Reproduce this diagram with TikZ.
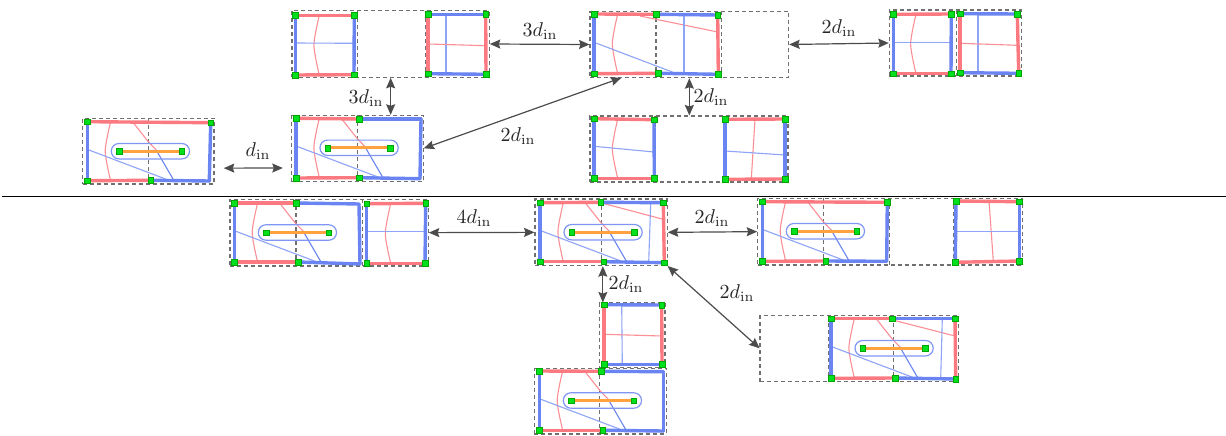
\documentclass[tikz,border=0pt]{standalone}
\usetikzlibrary{arrows.meta}
\definecolor{cred}{HTML}{FB7A82}
\definecolor{cblue}{HTML}{6A84F2}
\definecolor{tred}{HTML}{FC8F96}
\definecolor{tblue}{HTML}{8EA4F6}
\definecolor{cor}{HTML}{FFA23F}
\definecolor{cgr}{HTML}{00E01C}
\definecolor{cdash}{HTML}{707070}
\definecolor{carr}{HTML}{4C4C4C}
\tikzset{
 gsq/.style={draw=black!35!green,line width=.3pt,fill=cgr,minimum size=5.6pt,inner sep=0pt,outer sep=0pt},
 tkred/.style={cred,line width=3.4pt},
 tkblue/.style={cblue,line width=3.4pt},
 thr/.style={tred,line width=1.1pt},
 thb/.style={tblue,line width=1.1pt},
 dbox/.style={draw=cdash,line width=1.2pt,dash pattern=on 4pt off 3pt,inner sep=0pt,outer sep=0pt},
 dln/.style={cdash,line width=1.2pt,dash pattern=on 4pt off 3pt},
 dist/.style={carr,line width=1.2pt,{Stealth[length=10.5pt,width=9pt,inset=1.5pt]}-{Stealth[length=10.5pt,width=9pt,inset=1.5pt]},shorten >=.5pt,shorten <=.5pt},
 lab/.style={scale=2,transform shape,inner sep=0pt,text=black!85},
 caps/.style={cblue!85!white,line width=1.2pt,rounded corners=7.6pt},
 orl/.style={cor,line width=3pt},
}
\newcount\gcnt
\newcommand{\gn}[1]{\global\advance\gcnt by 1 \node[gsq] (g\the\gcnt) at (#1) {};}
\newcommand{\rseg}[2]{\draw[tkred,line cap=round] (#1) -- (#2);}
\newcommand{\bseg}[2]{\draw[tkblue,line cap=round] (#1) -- (#2);}
\newcommand{\rthin}[2]{\draw[thr] (#1) -- (#2);}
\newcommand{\bthin}[2]{\draw[thb] (#1) -- (#2);}
% box: name, x1, y1, x2, y2
\newcommand{\dboxn}[5]{\node[dbox,minimum width=#4pt-#2pt,minimum height=#5pt-#3pt] (#1) at ({(#2+#4)/2},{(#3+#5)/2}) {};}
\newcommand{\vd}[3]{\draw[dln] (#1,#2) -- (#1,#3);}
% curve in a cell: top x, top y, bottom y
\newcommand{\rcurve}[3]{\draw[thr] plot[smooth,tension=.45] coordinates {(#1,#2) (#1-5.4,{(#2+#3)/2}) (#1,#3)};}
% shared inner drawing of a wide left part: TL corner x,y
\newcommand{\capsparts}[2]{%
 \begin{scope}[shift={(#1,#2)}]
  \rcurve{23.3}{0}{59}
  \draw[thr] (46,1) -- (61,20) -- (68.7,28);
  \draw[cblue,line width=1.1pt] (68.7,28) -- (86.7,59);
  \bthin{0,27.7}{82.7,59}
  \draw[caps] (24,21.8) rectangle (102.2,37.2);
  \draw[orl] (31.7,29.6) -- (94.3,29.6);
  \gn{31.7,29.6}\gn{94.3,29.6}
 \end{scope}}
\begin{document}
\begin{tikzpicture}[x=1pt,y=-1pt]
\useasboundingbox (0,0) rectangle (1226,436);
\fill[white] (0,0) rectangle (1226,436);
% rule
\coordinate (rl) at (2,196.5); \coordinate (rr) at (1226,196.5);
\draw[black,line width=.9pt] (rl) -- (rr);

% --- P0
\dboxn{p0}{82.7}{118.3}{214}{184}
\vd{148.3}{118.3}{184}
\capsparts{87.3}{121.7}
\rseg{87.3,121.7}{210.7,122.7}
\bseg{87.3,121.7}{87.3,180.7}
\rseg{87.3,180.7}{150.7,180.3}
\bseg{150.7,180.3}{209.3,181}
\bseg{210.7,122.7}{209.3,181}
\gn{87.3,121.7}\gn{210.7,122.7}\gn{87.3,180.7}\gn{150.7,180.3}

% --- P5
\dboxn{p5}{291.7}{115.3}{423.3}{181.7}
\vd{357.7}{115.3}{181.7}
\capsparts{296}{118.3}
\rseg{296,118.3}{359.3,119}
\bseg{359.3,119}{421,119}
\bseg{421,119}{420,178.7}
\bseg{296,118.3}{296,178}
\rseg{296,178}{359.3,177.7}
\bseg{359.3,177.7}{420,178.7}
\gn{296,118.3}\gn{359.3,119}\gn{296,178}\gn{359.3,177.7}

% --- P1
\dboxn{p1}{292}{10.7}{489.3}{77.3}
\vd{357.3}{10.7}{77.3}\vd{425.3}{10.7}{77.3}
\rcurve{319.3}{15.3}{75}
\bthin{295.3,43}{354,43.3}
\rseg{295.3,15.3}{354.3,15.3}\rseg{295.3,75}{354,74.7}
\bseg{295.3,15.3}{295.3,75}\bseg{354.3,15.3}{354,74.7}
\gn{295.3,15.3}\gn{354.3,15.3}\gn{295.3,75}\gn{354,74.7}
\bthin{446,14.3}{446,74}
\rthin{428,44}{486,45.7}
\bseg{428,14.3}{485.7,14.3}\bseg{428,73.7}{486,74.3}
\rseg{428,14.3}{428,73.7}\rseg{485.7,14.3}{486,74.3}
\gn{428,14.3}\gn{485.7,14.3}\gn{428,73.7}\gn{486,74.3}

% --- P2
\dboxn{p2}{590}{11.3}{788.7}{77.7}
\vd{656}{11.3}{77.7}\vd{721.3}{11.3}{77.7}
\rcurve{617.7}{14}{73.7}
\rthin{640,16}{717.7,32}
\bthin{594,42.3}{676.7,73.7}
\bthin{684,15}{684,74}
\rseg{594,14}{656,14.3}\bseg{656,14.3}{717.7,15}
\rseg{717.7,15}{718.3,74.3}
\bseg{594,14}{594,73.7}
\rseg{594,73.7}{658,73.3}\bseg{658,73.3}{718.3,74.3}
\gn{594,14}\gn{656,14.3}\gn{717.7,15}\gn{594,73.7}\gn{658,73.3}\gn{718.3,74.3}

% --- P3
\dboxn{p3}{590}{116}{788}{182}
\vd{655}{116}{182}\vd{723.3}{116}{182}
\rcurve{617.7}{119.3}{178.3}
\bthin{594,146.3}{654,152}
\rseg{594,118.7}{654,119.7}\rseg{594,178.3}{654.3,178.3}
\bseg{594,118.7}{594,178.3}\bseg{654,119.7}{654.3,178.3}
\gn{594,118.7}\gn{654,119.7}\gn{594,178.3}\gn{654.3,178.3}
\rthin{755,119.3}{751.3,179}
\bthin{725,151}{785,155}
\rseg{725,119.3}{785,119}\rseg{725,179.3}{785,179}
\bseg{725,119.3}{725,179.3}\bseg{785,119}{785,179}
\gn{725,119.3}\gn{785,119}\gn{725,179.3}\gn{785,179}

% --- P4
\dboxn{p4}{889.3}{10}{1021.3}{76}
\vd{956.7}{10}{76}
\rcurve{916}{14.3}{73.7}
\bthin{893.3,42.3}{951,42.3}
\rseg{893.3,14.3}{951.3,14}\rseg{893.3,73.7}{951,73.7}
\bseg{893.3,14.3}{893.3,73.7}\bseg{951.3,14}{951,73.7}
\gn{893.3,14.3}\gn{951.3,14}\gn{893.3,73.7}\gn{951,73.7}
\bthin{978,13.7}{978,73}
\rthin{960,43.3}{1017.5,45.3}
\bseg{960,13.7}{1017.3,14}\bseg{960,72.7}{1018.7,73.3}
\rseg{960,13.7}{960,72.7}\rseg{1017.3,14}{1018.7,73.3}
\gn{960,13.7}\gn{1017.3,14}\gn{960,72.7}\gn{1018.7,73.3}

% --- P6
\dboxn{p6}{230}{199.3}{428.3}{266}
\vd{296}{199.3}{266}\vd{362.7}{199.3}{266}
\capsparts{234.3}{203}
\rseg{234.3,203}{296,203}\bseg{296,203}{359,204}
\bseg{359,204}{360,264}
\bseg{234.3,203}{234.3,262}
\rseg{234.3,262}{298.3,262}\bseg{298.3,262}{360,264}
\gn{234.3,203}\gn{296,203}\gn{234.3,262}\gn{298.3,262}
\rcurve{390.7}{203.7}{263.3}
\bthin{366.7,231.7}{425,231.7}
\rseg{366.7,203.7}{425.7,203.3}\rseg{366.7,263.3}{425,263.3}
\bseg{366.7,203.7}{366.7,263.3}\bseg{425.7,203.3}{425,263.3}
\gn{366.7,203.7}\gn{425.7,203.3}\gn{366.7,263.3}\gn{425,263.3}

% --- P7
\dboxn{p7}{535}{199}{667.3}{265.7}
\vd{601.3}{199}{265.7}
\capsparts{540}{202.7}
\rthin{601.7,203}{663.3,219.3}
\bthin{650.7,202.7}{648.7,262.3}
\rseg{540,202.7}{600.7,202.3}\bseg{600.7,202.3}{663.3,202.7}
\rseg{663.3,202.7}{664.3,262.7}
\bseg{540,202.7}{540,261.7}
\rseg{540,261.7}{603.7,261.7}\bseg{603.7,261.7}{664.3,262.7}
\gn{540,202.7}\gn{600.7,202.3}\gn{663.3,202.7}\gn{540,261.7}\gn{603.7,261.7}\gn{664.3,262.7}

% --- P8
\dboxn{p8}{757.7}{198.3}{1022.3}{265}
\vd{823.7}{198.3}{265}\vd{889.3}{198.3}{265}\vd{953.3}{198.3}{265}
\capsparts{762.3}{201.7}
\rseg{762.3,201.7}{887.3,202.3}
\bseg{887.3,202.3}{886.7,261.3}
\bseg{762.3,201.7}{762.3,261.3}
\rseg{762.3,261.3}{825.7,261}\bseg{825.7,261}{886.7,261.3}
\gn{762.3,201.7}\gn{887.3,202.3}\gn{762.3,261.3}\gn{825.7,261}
\rthin{989,201}{993.3,261}
\bthin{956,231.7}{1019.3,231.7}
\rseg{956,201}{1019.3,201.7}\rseg{955.3,262.3}{1019.3,261}
\bseg{956,201}{955.3,262.3}\bseg{1019.3,201.7}{1019.3,261}
\gn{956,201}\gn{1019.3,201.7}\gn{955.3,262.3}\gn{1019.3,261}

% --- P9
\dboxn{p9}{599.3}{303}{665}{367.7}
\bthin{621.7,305}{622.3,364.3}
\rthin{604,334.3}{661.7,336}
\bseg{604,304.7}{661.7,305}\bseg{604,364.3}{662,364.3}
\rseg{604,304.7}{604,364.3}\rseg{661.7,305}{662,364.3}
\gn{604,304.7}\gn{661.7,305}\gn{604,364.3}\gn{662,364.3}
\dboxn{p11}{534.3}{368.3}{666.7}{434}
\vd{599.7}{368.3}{434}
\capsparts{539.3}{371}
\rseg{539.3,371}{601,371.3}\bseg{601,371.3}{663.3,371.7}
\bseg{663.3,371.7}{663.3,431}
\bseg{539.3,371}{539.3,430.3}
\rseg{539.3,430.3}{602.7,430.3}\bseg{602.7,430.3}{663.3,431}
\gn{539.3,371}\gn{601,371.3}\gn{539.3,430.3}\gn{602.7,430.3}

% --- P10
\dboxn{p10}{760}{315.7}{958.3}{381.7}
\vd{829}{315.7}{381.7}\vd{893.3}{315.7}{381.7}
\capsparts{831}{318.7}
\rthin{892.7,320}{955,336}
\bthin{942.3,318.7}{940.7,378.3}
\rseg{831,318.7}{892,318.7}\bseg{892,318.7}{955,318.7}
\rseg{955,318.7}{955.7,379}
\bseg{831,318.7}{831,378.3}
\rseg{831,378.3}{895,378}\bseg{895,378}{955.7,379}
\gn{831,318.7}\gn{892,318.7}\gn{955,318.7}\gn{831,378.3}\gn{895,378}\gn{955.7,379}

% --- connectors
\draw[dist] ([xshift=9.3pt,yshift=-17pt]p0.east) -- ([xshift=-8.4pt,yshift=-19.5pt]p5.west);
\draw[dist] (p1.south) -- (p1.south |- p5.north);
\draw[dist] (p1.east) -- (p2.west);
\draw[dist] (p2.east) -- (p4.west);
\draw[dist] (p2.south) -- (p2.south |- p3.north);
\draw[dist] (p5.east) -- ([xshift=-67.6pt]p2.south);
\draw[dist] (p6.east) -- (p7.west);
\draw[dist] (p7.east) -- (p8.west);
\draw[dist] ([xshift=1.7pt]p7.south) -- ([xshift=1.7pt]p7.south |- p9.north);
\draw[dist] (p7.south east) -- (p10.west);

% --- labels
\node[lab] (l1) at (258,151) {$d_{\mathrm{in}}$};
\node[lab] (l2) at (366,98) {$3d_{\mathrm{in}}$};
\node[lab] (l3) at (540,31) {$3d_{\mathrm{in}}$};
\node[lab] (l4) at (839,28) {$2d_{\mathrm{in}}$};
\node[lab] (l5) at (711,97) {$2d_{\mathrm{in}}$};
\node[lab] (l6) at (518,136) {$2d_{\mathrm{in}}$};
\node[lab] (l7) at (474,218) {$4d_{\mathrm{in}}$};
\node[lab] (l8) at (712,218) {$2d_{\mathrm{in}}$};
\node[lab] (l9) at (626,284) {$2d_{\mathrm{in}}$};
\node[lab] (l10) at (737,293) {$2d_{\mathrm{in}}$};
\end{tikzpicture}
\end{document}
